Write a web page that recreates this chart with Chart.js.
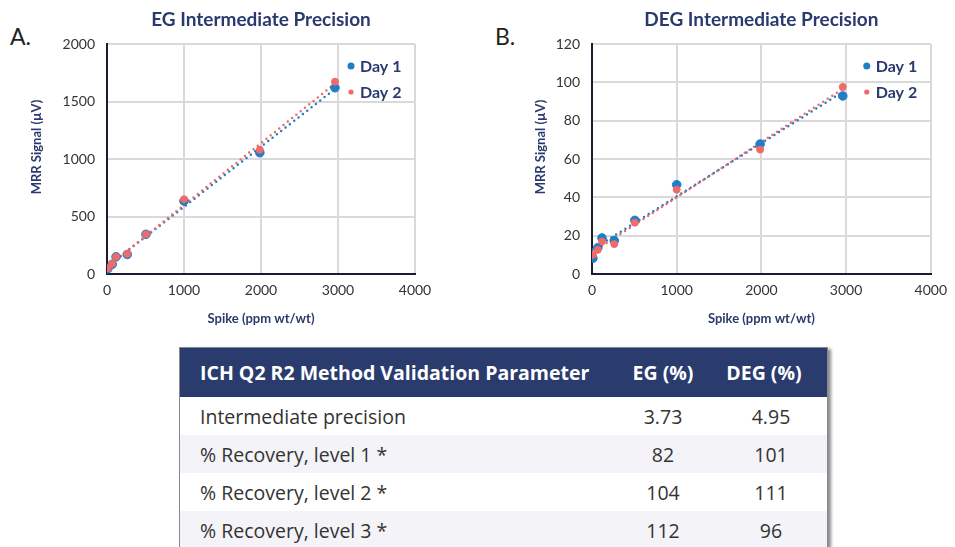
<!DOCTYPE html>
<html>
<head>
<meta charset="utf-8">
<script src="https://cdn.jsdelivr.net/npm/chart.js@4.4.1/dist/chart.umd.min.js"></script>
<style>
  body { margin: 0; width: 955px; height: 547px; overflow: hidden; background: #fff; font-family: Lato, sans-serif; position: relative; }
  .panel { position: absolute; top: 0; }
  .letter { position: absolute; font-size: 23px; color: #222; }
  #tbl { position: absolute; left: 179px; top: 347px; width: 649px; border-collapse: collapse; border: 1px solid #8a8a8a; box-shadow: 3px 2px 3px rgba(0,0,0,0.45); font-family: "Open Sans", sans-serif; }
  #tbl th { background: #2a3b6e; color: #fff; font-weight: bold; font-size: 19.5px; height: 49px; text-align: center; padding: 0; }
  #tbl th.p { text-align: left; padding-left: 20px; }
  #tbl td { font-size: 19.5px; color: #333; height: 38px; padding: 0; text-align: center; }
  #tbl td.p { text-align: left; padding-left: 20px; }
  #tbl tr:nth-child(even) td { background: #f3f3f8; }
</style>
</head>
<body>
<div class="letter" style="left:10px;top:22px;">A.</div>
<div class="letter" style="left:495px;top:22px;">B.</div>
<canvas id="chartEG" class="panel" style="left:0px;" width="470" height="335"></canvas>
<canvas id="chartDEG" class="panel" style="left:480px;" width="475" height="335"></canvas>
<table id="tbl"><thead></thead><tbody></tbody></table>
<script>
// spike levels (ppm wt/wt)
var spikes = [10, 68, 118, 263, 506, 1000, 1985, 2961];
// EG signal (uV)
var egDay1 = [45, 85, 150, 170, 345, 635, 1055, 1620];
var egDay2 = [50, 90, 150, 175, 345, 650, 1080, 1672];
// DEG signal (uV)
var degDay1 = [8.2, 13.7, 18.8, 17.4, 28, 46.6, 67.8, 92.9];
var degDay2 = [10, 12.6, 17, 15.6, 26.8, 44, 64.9, 97.6];

var xTicks = [0, 1000, 2000, 3000, 4000];

// table
var tableHead = ['ICH Q2 R2 Method Validation Parameter', 'EG (%)', 'DEG (%)'];
var tableParams = ['Intermediate precision', '% Recovery, level 1 *', '% Recovery, level 2 *', '% Recovery, level 3 *'];
var tableEG = ['3.73', '82', '104', '112'];
var tableDEG = ['4.95', '101', '111', '96'];

var blue = '#1f7ec4';
var red = '#ef6a6b';
var navy = '#2b3a6e';

function pts(xs, ys) {
    return xs.map(function(x, i) { return {x: x, y: ys[i]}; });
}

// least squares trendline, from first to last x
function trend(xs, ys) {
    var n = xs.length, sx = 0, sy = 0, sxx = 0, sxy = 0;
    for (var i = 0; i < n; i++) { sx += xs[i]; sy += ys[i]; sxx += xs[i]*xs[i]; sxy += xs[i]*ys[i]; }
    var m = (n*sxy - sx*sy) / (n*sxx - sx*sx);
    var b = (sy - m*sx) / n;
    var x0 = Math.min.apply(null, xs), x1 = Math.max.apply(null, xs);
    return [{x: x0, y: m*x0 + b}, {x: x1, y: m*x1 + b}];
}

var decor = {
    id: 'decor',
    afterDraw: function(chart, args, opts) {
        var ctx = chart.ctx, a = chart.chartArea;
        ctx.save();
        ctx.fillStyle = navy;
        ctx.font = 'bold 19px Lato';
        ctx.textAlign = 'center';
        ctx.textBaseline = 'middle';
        ctx.fillText(opts.title, (a.left + a.right) / 2, 20);
        // y axis title
        ctx.save();
        ctx.translate(opts.yTitleX, 147);
        ctx.rotate(-Math.PI / 2);
        ctx.font = 'bold 13px Lato';
        ctx.fillText('MRR Signal (µV)', 0, 0);
        ctx.restore();
        // legend
        ctx.font = 'bold 16px Lato';
        ctx.textAlign = 'left';
        var row = 0;
        chart.data.datasets.forEach(function(ds) {
            if (!ds.inLegend) return;
            var y = a.top + 22 + row * 26;
            ctx.fillStyle = ds.backgroundColor;
            ctx.beginPath();
            ctx.arc(a.right - 64, y, ds.legendR, 0, Math.PI * 2);
            ctx.fill();
            ctx.fillStyle = navy;
            ctx.fillText(ds.label, a.right - 55, y + 1);
            row++;
        });
        ctx.restore();
    }
};

function plain(v) { return String(v); }

function makeChart(id, title, d1, d2, yMax, yStep, yWidth, yTitleX, padRight) {
    var dotted = {borderWidth: 2.5, borderDash: [0, 5.5], borderCapStyle: 'round', pointRadius: 0, showLine: true, fill: false};
    return new Chart(document.getElementById(id), {
        type: 'scatter',
        data: {
            datasets: [
                Object.assign({label: 'Day 1 trend', data: trend(spikes, d1), borderColor: blue, order: 3}, dotted),
                Object.assign({label: 'Day 2 trend', data: trend(spikes, d2), borderColor: red, order: 2}, dotted),
                {label: 'Day 1', data: pts(spikes, d1), backgroundColor: blue, borderColor: blue, pointRadius: 4.3, order: 1, inLegend: true, legendR: 3.5},
                {label: 'Day 2', data: pts(spikes, d2), backgroundColor: red, borderColor: red, pointRadius: 3.5, order: 0, inLegend: true, legendR: 2.6}
            ]
        },
        options: {
            responsive: false,
            animation: false,
            layout: {padding: {top: 44, left: 0, right: padRight, bottom: 0}},
            plugins: {
                legend: {display: false},
                tooltip: {enabled: false},
                decor: {title: title, yTitleX: yTitleX}
            },
            scales: {
                x: {
                    type: 'linear', min: 0, max: 4000,
                    afterBuildTicks: function(s) { s.ticks = xTicks.map(function(v) { return {value: v}; }); },
                    grid: {color: '#d9d9d9', lineWidth: 2, drawTicks: false, tickLength: 0},
                    border: {color: '#1c1c30', width: 2},
                    ticks: {padding: 8, color: '#333', font: {family: 'Lato', size: 14}, callback: plain},
                    title: {display: true, text: 'Spike (ppm wt/wt)', color: navy, font: {family: 'Lato', size: 13, weight: 'bold'}, padding: {top: 0, bottom: 8}},
                    afterFit: function(s) { s.height = 61; }
                },
                y: {
                    min: 0, max: yMax,
                    ticks: {stepSize: yStep, padding: 12, color: '#333', font: {family: 'Lato', size: 14}, callback: plain},
                    grid: {color: '#d9d9d9', lineWidth: 2, drawTicks: false, tickLength: 0},
                    border: {color: '#1c1c30', width: 2},
                    afterFit: function(s) { s.width = yWidth; }
                }
            }
        },
        plugins: [decor]
    });
}

makeChart('chartEG', 'EG Intermediate Precision', egDay1, egDay2, 2000, 500, 107, 37, 55);
makeChart('chartDEG', 'DEG Intermediate Precision', degDay1, degDay2, 120, 20, 112, 61, 17);

// build table
var thead = document.querySelector('#tbl thead');
var hr = document.createElement('tr');
tableHead.forEach(function(h, i) {
    var th = document.createElement('th');
    th.textContent = h;
    if (i == 0) { th.className = 'p'; th.style.width = '411px'; }
    if (i == 1) th.style.width = '104px';
    if (i == 2) th.style.paddingRight = '14px';
    hr.appendChild(th);
});
thead.appendChild(hr);
var tbody = document.querySelector('#tbl tbody');
tableParams.forEach(function(p, i) {
    var tr = document.createElement('tr');
    [p, tableEG[i], tableDEG[i]].forEach(function(v, j) {
        var td = document.createElement('td');
        td.textContent = v;
        if (j == 0) td.className = 'p';
        tr.appendChild(td);
    });
    tbody.appendChild(tr);
});
</script>
</body>
</html>
